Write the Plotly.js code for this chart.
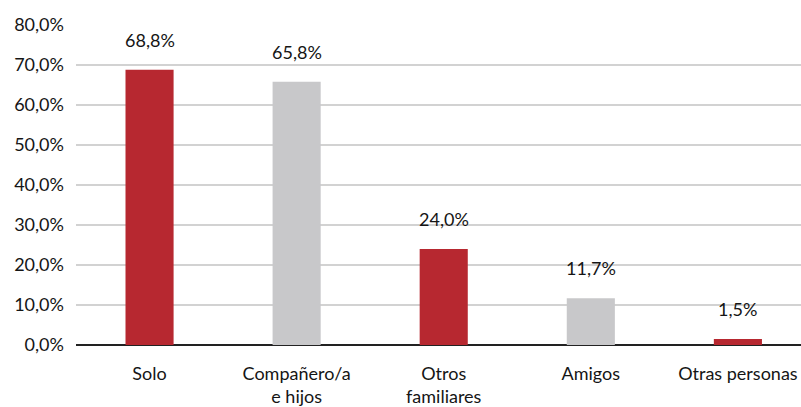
<!DOCTYPE html>
<html>
<head>
<meta charset="utf-8">
<script src="https://cdn.plot.ly/plotly-3.0.1.min.js"></script>
<style>
  html, body { margin: 0; padding: 0; background: #fff; }
  #chart { width: 801px; height: 407px; }
</style>
</head>
<body>
<div id="chart"></div>
<script>
// Con quién vive: porcentaje por categoría
const categories = ['Solo', 'Compañero/a<br>e hijos', 'Otros<br>familiares', 'Amigos', 'Otras personas'];
const values = [68.8, 65.8, 24.0, 11.7, 1.5];
const barColors = ['#B72830', '#C8C8CA', '#B72830', '#C8C8CA', '#B72830'];
const yTicks = [0, 10, 20, 30, 40, 50, 60, 70, 80];

const fontFamily = 'Lato, "Noto Sans", sans-serif';
const textColor = '#151515';

const fmt = v => v.toFixed(1).replace('.', ',') + '%';

const trace = {
  type: 'bar',
  x: categories,
  y: values,
  marker: { color: barColors },
  hoverinfo: 'none',
  cliponaxis: false
};

const annotations = categories.map((c, i) => ({
  x: c,
  y: values[i],
  xref: 'x',
  yref: 'y',
  text: fmt(values[i]),
  showarrow: false,
  yanchor: 'middle',
  yshift: 30,
  font: { family: fontFamily, size: 18, color: textColor }
}));

const layout = {
  width: 801,
  height: 407,
  margin: { l: 76, r: 0, t: 25, b: 62 },
  paper_bgcolor: '#ffffff',
  plot_bgcolor: '#ffffff',
  separators: ',.',
  bargap: 0.673,
  showlegend: false,
  font: { family: fontFamily, size: 18, color: textColor },
  xaxis: {
    type: 'category',
    range: [-0.5, 4.429],
    showgrid: false,
    zeroline: false,
    showline: false,
    ticks: '',
    ticklabelstandoff: 16,
    tickfont: { family: fontFamily, size: 18, color: textColor }
  },
  yaxis: {
    range: [0, 80],
    tickvals: yTicks,
    ticktext: yTicks.map(fmt),
    showgrid: true,
    gridcolor: '#d2d2d2',
    gridwidth: 1.5,
    zeroline: true,
    zerolinecolor: '#222222',
    zerolinewidth: 2,
    showline: false,
    ticks: '',
    ticklabelstandoff: 11,
    tickfont: { family: fontFamily, size: 18, color: textColor }
  },
  annotations: annotations
};

Plotly.newPlot('chart', [trace], layout, { displayModeBar: false, staticPlot: true });
</script>
</body>
</html>
